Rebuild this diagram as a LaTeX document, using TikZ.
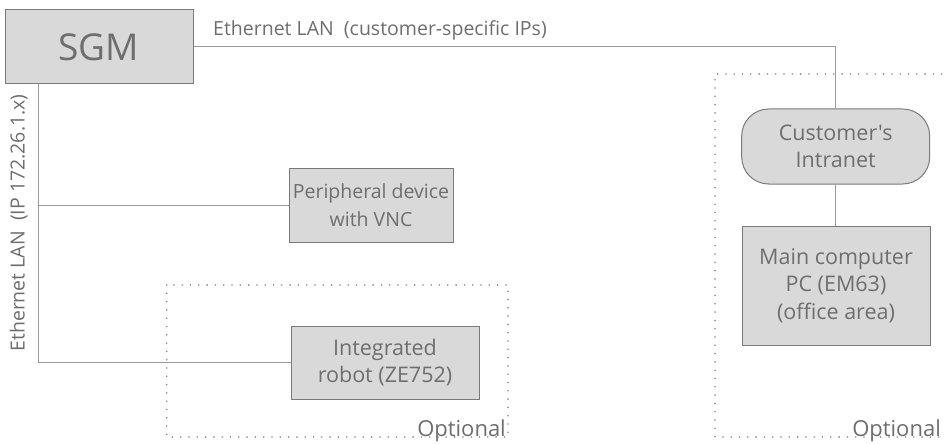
\documentclass[tikz,border=0pt]{standalone}
\usepackage{fontspec}
\setmainfont{Open Sans}[Ligatures=TeXOff]
\begin{document}
\begin{tikzpicture}[x=1pt,y=-1pt,
  devbox/.style={draw=boxline, fill=boxfill, line width=1pt, inner sep=0pt, align=center, text=txtgray, font=\fontsize{21.5}{27.5}\selectfont},
  wire/.style={draw=wiregray, line width=1pt},
  optbox/.style={draw=dotgray, line width=1.8pt, line cap=round, dash pattern=on 0pt off 8.3pt},
  lbl/.style={text=txtgray, inner sep=0pt, font=\fontsize{19.5}{22}\selectfont},
  optlbl/.style={text=txtgray, inner sep=0pt, font=\fontsize{22}{24}\selectfont}
]
\definecolor{txtgray}{HTML}{6E6E6E}
\definecolor{boxfill}{HTML}{D9D9D9}
\definecolor{boxline}{HTML}{7A7A7A}
\definecolor{wiregray}{HTML}{9A9A9A}
\definecolor{dotgray}{HTML}{8C8C8C}
\useasboundingbox (0,0) rectangle (946,444);

% optional areas
\draw[optbox] (166.7,285) rectangle (508,437);
\draw[optbox] (950,74) -- (715,74) -- (715,437) -- (950,437);

% devices
\node[devbox, minimum width=188pt, minimum height=74pt, font=\fontsize{37}{40}\selectfont] (sgm) at (99,47) {SGM};
\node[devbox, minimum width=164pt, minimum height=74pt, font=\fontsize{19.5}{27.5}\selectfont] (per) at (371,205) {Peripheral device\\with VNC};
\node[devbox, minimum width=188pt, minimum height=73pt] (rob) at (385,362.5) {Integrated\\robot (ZE752)};
\node[devbox, minimum width=188pt, minimum height=75pt, rounded corners=27pt] (intra) at (835.7,146.5) {Customer's\\Intranet};
\node[devbox, minimum width=188pt, minimum height=119pt] (pc) at (836,285.5) {Main computer\\PC (EM63)\\(office area)};

% connectors
\coordinate (trunk) at (38.7,84);
\coordinate (jper) at (38.7,205);
\coordinate (jrob) at (38.7,362.5);
\draw[wire] (sgm.east) -| (intra.north);
\draw[wire] (trunk) -- (jrob) -- (rob.west);
\draw[wire] (jper) -- (per.west);
\draw[wire] (intra.south) -- (pc.north -| intra.south);

% labels
\node[lbl, anchor=base west] (toplbl) at (213,35.5) {Ethernet LAN\ \ (customer-specific IPs)};
\node[lbl, rotate=90, anchor=base] (vlbl) at (24.5,223) {Ethernet LAN\ \ (IP 172.26.1.x)};
\node[optlbl, anchor=base east] (opt1) at (506,436) {Optional};
\node[optlbl, anchor=base east] (opt2) at (941,436) {Optional};
\end{tikzpicture}
\end{document}
